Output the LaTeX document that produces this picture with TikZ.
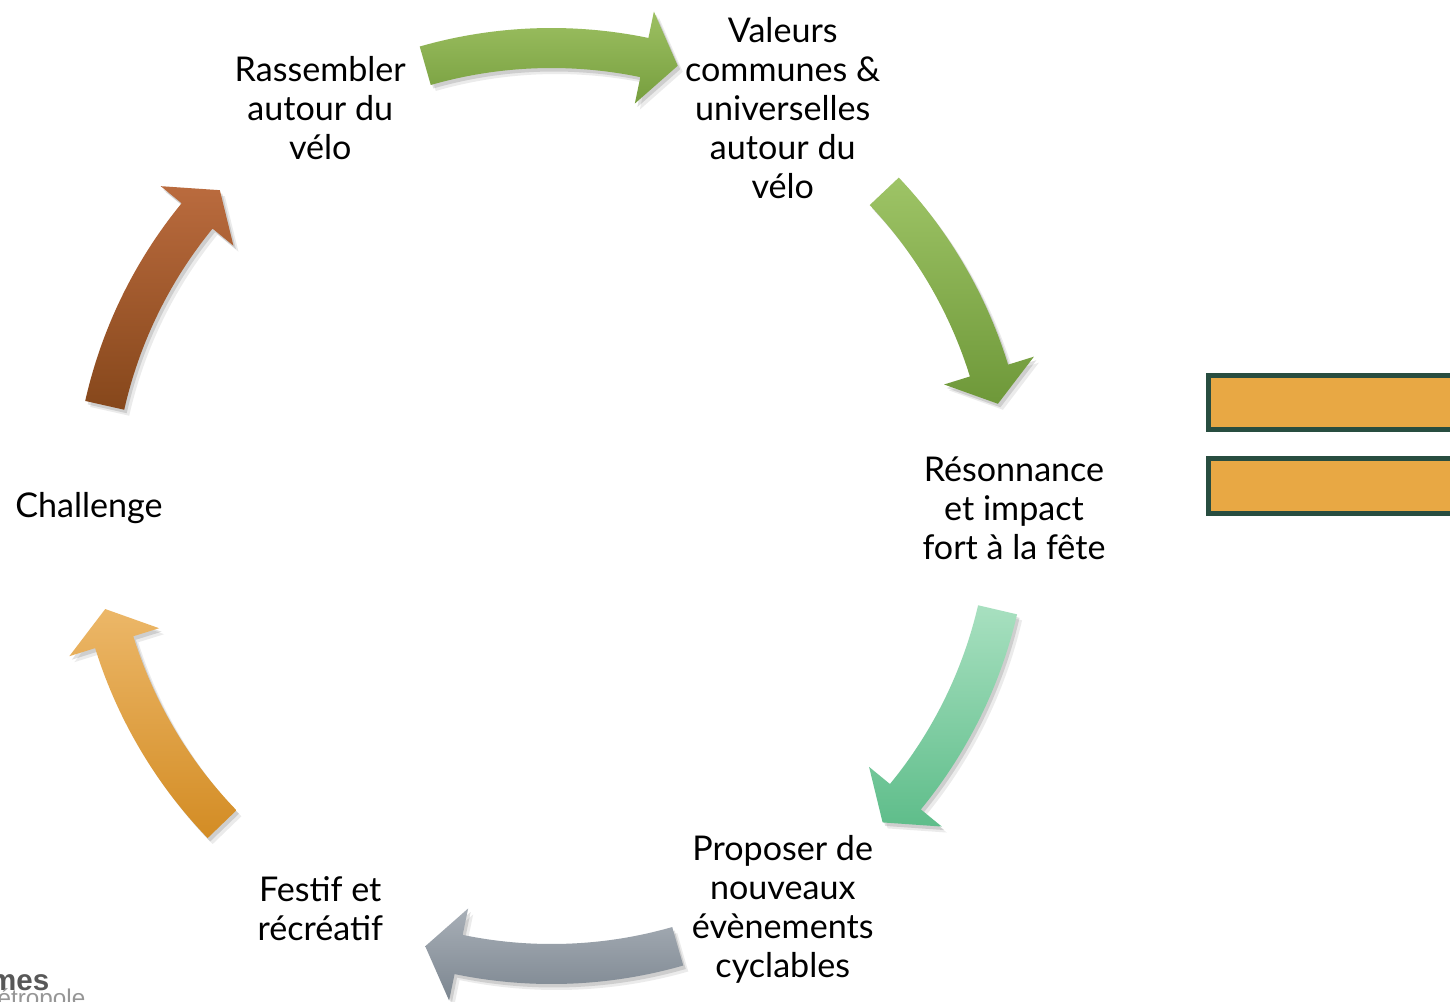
\documentclass[tikz,border=0pt]{standalone}
\usepackage{fontspec}
\setmainfont{Lato}
\newfontfamily\logofont{Liberation Sans}
\usetikzlibrary{shadows}
\definecolor{gTopA}{RGB}{157,192,98}
\definecolor{gBotA}{RGB}{118,158,62}
\definecolor{gTopB}{RGB}{158,196,102}
\definecolor{gBotB}{RGB}{110,152,57}
\definecolor{mTop}{RGB}{168,224,192}
\definecolor{mBot}{RGB}{94,189,138}
\definecolor{sTop}{RGB}{168,175,183}
\definecolor{sBot}{RGB}{124,134,144}
\definecolor{oTop}{RGB}{236,183,104}
\definecolor{oBot}{RGB}{211,140,36}
\definecolor{bTop}{RGB}{186,107,62}
\definecolor{bBot}{RGB}{134,71,27}
\definecolor{barFill}{RGB}{232,168,68}
\definecolor{barEdge}{RGB}{40,77,64}
\definecolor{logoDark}{RGB}{88,88,88}
\definecolor{logoLight}{RGB}{150,150,150}
\tikzset{
  cyclabel/.style={align=center, text=black, inner sep=0pt,
    font=\fontsize{9.7}{11.07}\selectfont},
  arrowbody/.style={
    drop shadow={shadow xshift=0.05cm, shadow yshift=-0.06cm, opacity=0.08, fill=black},
    drop shadow={shadow xshift=0.025cm, shadow yshift=-0.035cm, opacity=0.12, fill=black}},
  barbox/.style={fill=barFill, draw=barEdge, line width=0.05cm}
}
\newcommand{\cycarrow}[4]{%
  \pgfmathsetmacro{\hb}{#2+4.3}%
  \path[arrowbody, top color=#3, bottom color=#4]
    (#1:4.38) arc[start angle=#1, end angle=\hb, radius=4.38]
    -- (\hb:4.11) -- (#2:4.58) -- (\hb:5.05) -- (\hb:4.78)
    arc[start angle=\hb, end angle=#1, radius=4.78] -- cycle;}
\begin{document}
\begin{tikzpicture}
\useasboundingbox (-5.515,-4.95) rectangle (8.985,5.06);
\clip (-5.515,-4.95) rectangle (8.985,5.06);
\fill[white] (-5.515,-4.95) rectangle (8.985,5.06);
% arrows (clockwise)
\cycarrow{106}{74}{gTopA}{gBotA}
\cycarrow{43.4}{12.9}{gTopB}{gBotB}
\cycarrow{-13.1}{-43.7}{mTop}{mBot}
\cycarrow{-74}{-106}{sTop}{sBot}
\cycarrow{-136}{-167}{oTop}{oBot}
\cycarrow{167.3}{136.4}{bTop}{bBot}
% labels
\begin{scope}[yshift=-0.025cm]
\node[cyclabel] (valeurs) at (60:4.625) {Valeurs\\communes \&\\universelles\\autour du\\vélo};
\node[cyclabel] (resonnance) at (0:4.625) {Résonnance\\et impact\\fort à la fête};
\node[cyclabel] (proposer) at (-60:4.625) {Proposer de\\nouveaux\\évènements\\cyclables};
\node[cyclabel] (festif) at (-120:4.625) {Festif et\\récréatif};
\node[cyclabel] (challenge) at (180:4.625) {Challenge};
\node[cyclabel] (rassembler) at (120:4.625) {Rassembler\\autour du\\vélo};
\end{scope}
% bars on the right
\path[barbox] (6.57,1.305) rectangle (9.2,0.765);
\path[barbox] (6.57,0.475) rectangle (9.2,-0.075);
% partial logo
\node[anchor=base east, inner sep=0pt, text=logoDark, font=\logofont\bfseries\fontsize{8.4}{9}\selectfont] (logoa) at (-5.015,-4.84) {mes};
\node[anchor=base west, inner sep=0pt, text=logoLight, font=\logofont\fontsize{6.9}{8}\selectfont] (logob) at (-5.545,-5.0) {étropole};
\end{tikzpicture}
\end{document}
